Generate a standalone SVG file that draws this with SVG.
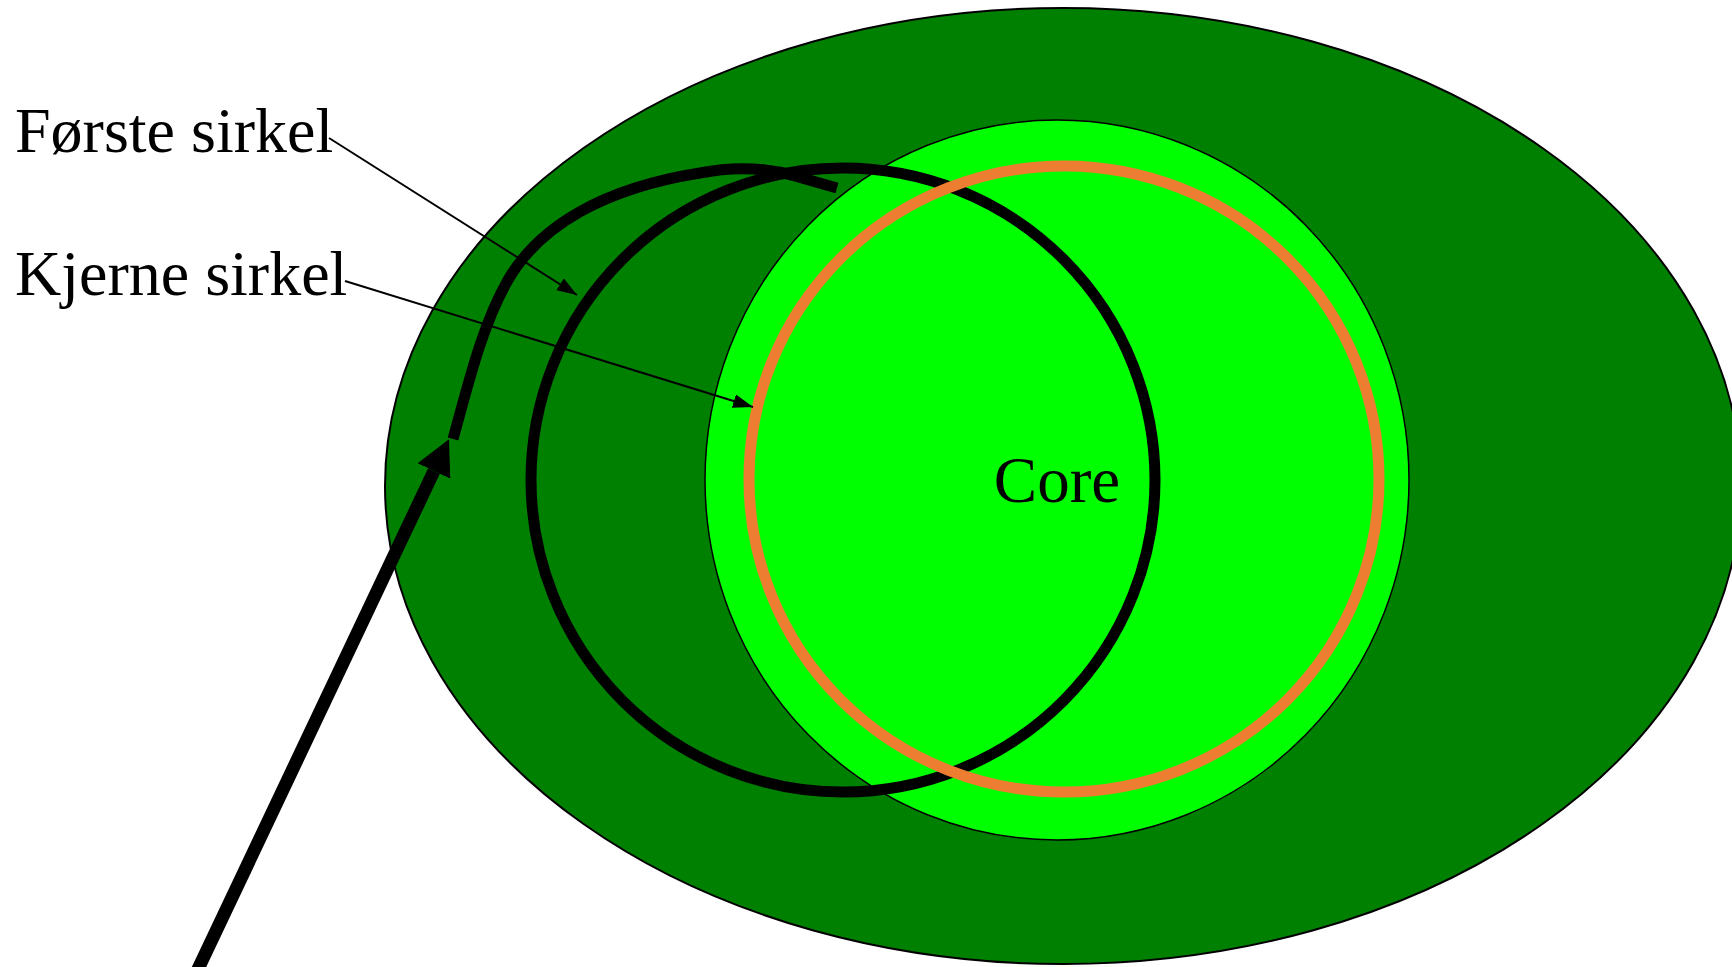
<svg xmlns="http://www.w3.org/2000/svg" width="1732" height="967" viewBox="0 0 1732 967">
  <style>
    .lbl { font-family: "Liberation Serif", "Times New Roman", serif; fill: #000; }
    .ring { fill: none; }
    .thin { stroke: #000; stroke-width: 2; fill: none; }
  </style>
  <defs>
    <marker id="headThin" markerUnits="userSpaceOnUse" markerWidth="21" markerHeight="15" refX="20" refY="7" orient="auto">
      <path d="M0,0 L20,7 L0,14 z" fill="#000"/>
    </marker>
    <marker id="headThick" markerUnits="userSpaceOnUse" markerWidth="36" markerHeight="37" refX="0" refY="18" orient="auto">
      <path d="M0,0 L35,18 L0,36 z" fill="#000"/>
    </marker>
  </defs>
  <rect width="1732" height="967" fill="#fff"/>
  <g id="outer">
    <ellipse cx="1063" cy="486" rx="678" ry="478" fill="#008000" stroke="#000" stroke-width="2"/>
  </g>
  <g id="core">
    <ellipse cx="1057" cy="480" rx="352" ry="360" fill="#00FF00" stroke="#000" stroke-width="1.5"/>
  </g>
  <g id="forste-sirkel">
    <circle class="ring" cx="843" cy="480" r="312" stroke="#000" stroke-width="11"/>
  </g>
  <g id="kjerne-sirkel">
    <ellipse class="ring" cx="1064" cy="479" rx="315" ry="313" stroke="#ED7D31" stroke-width="11"/>
  </g>
  <g id="core-label">
    <text class="lbl" x="1057" y="502" font-size="65" text-anchor="middle">Core</text>
  </g>
  <g id="labels">
    <text class="lbl" x="15" y="152" font-size="64">Første sirkel</text>
    <text class="lbl" x="15" y="295" font-size="64">Kjerne sirkel</text>
  </g>
  <g id="connectors">
    <path d="M453,439 C468,385 482,325 508,280 C540,225 605,188 700,173 Q750,163 795,176 L837,188" fill="none" stroke="#000" stroke-width="11" stroke-linecap="butt"/>
    <line x1="190" y1="986" x2="434" y2="471" stroke="#000" stroke-width="13" marker-end="url(#headThick)"/>
    <line class="thin" x1="329" y1="138" x2="577" y2="295" marker-end="url(#headThin)"/>
    <line class="thin" x1="345" y1="281" x2="753" y2="407" marker-end="url(#headThin)"/>
  </g>
</svg>
